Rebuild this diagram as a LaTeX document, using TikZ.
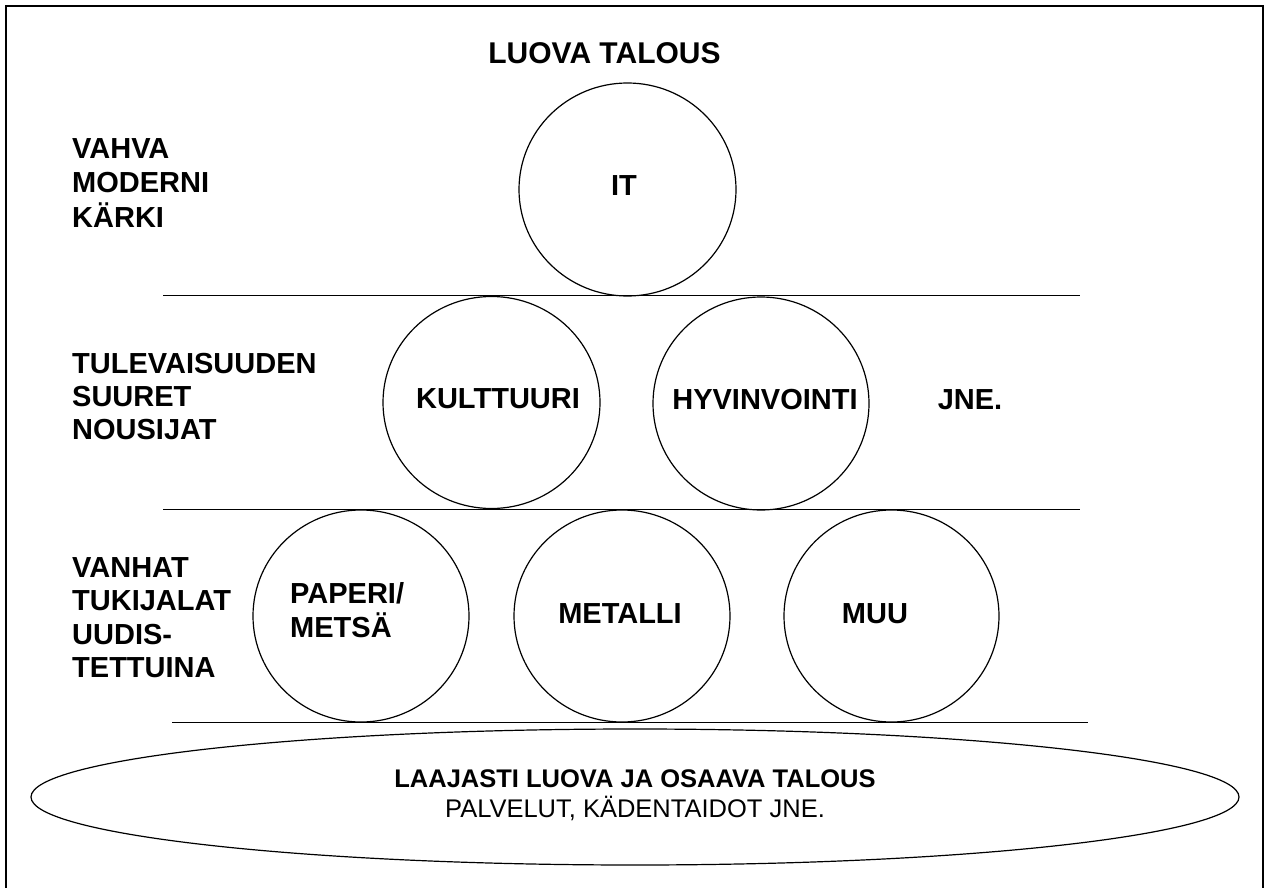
\documentclass[tikz,border=0pt]{standalone}
\usepackage{fontspec}
\setmainfont{Liberation Sans}
\usetikzlibrary{shapes.geometric}
\tikzset{
  ball/.style={draw=black, line width=1.2pt, ellipse, inner sep=0pt, minimum width=216pt, minimum height=212pt},
  lbl/.style={font=\fontsize{29}{34}\selectfont\bfseries, inner sep=0pt},
  ttl/.style={font=\fontsize{30}{34}\selectfont\bfseries, inner sep=0pt},
  bbold/.style={font=\fontsize{25.5}{30}\selectfont\bfseries, inner sep=0pt},
  breg/.style={font=\fontsize{25.5}{30}\selectfont, inner sep=0pt},
  rule/.style={draw=black, line width=1.5pt},
  frame/.style={draw=black, line width=2pt}
}
\begin{document}
\begin{tikzpicture}[x=1pt, y=-1pt]
\useasboundingbox (0,0) rectangle (1264,888);
\fill[white] (0,0) rectangle (1264,888);
\draw[frame] (6,6) rectangle (1263,900);

% layer rules
\coordinate (r1a) at (163,295.5); \coordinate (r1b) at (1080,295.5);
\coordinate (r2a) at (163,509.5); \coordinate (r2b) at (1080,509.5);
\coordinate (r3a) at (172,722.5); \coordinate (r3b) at (1088,722.5);
\draw[rule] (r1a) -- (r1b);
\draw[rule] (r2a) -- (r2b);
\draw[rule] (r3a) -- (r3b);

% title
\node[ttl, anchor=base] (title) at (604.5,64) {LUOVA TALOUS};

% circles
\node[ball, minimum width=217pt, minimum height=213pt] (it) at (627.5,189.5) {};
\node[ball, minimum width=217pt] (kult) at (491.5,402.5) {};
\node[ball, minimum height=213pt] (hyv) at (761,403.5) {};
\node[ball] (pap) at (361,616) {};
\node[ball] (met) at (622,616) {};
\node[ball, minimum width=215pt] (muu) at (891.5,616) {};

% circle texts
\node[lbl, anchor=base] (itt) at (624,196) {IT};
\node[lbl, anchor=base] (kultt) at (498,408) {KULTTUURI};
\node[lbl, anchor=base] (hyvt) at (765,409) {HYVINVOINTI};
\node[lbl, anchor=base] (jne) at (970,409) {JNE.};
\node[lbl, anchor=base west] (papt1) at (290,603) {PAPERI/};
\node[lbl, anchor=base west] (papt2) at (290,637) {METSÄ};
\node[lbl, anchor=base] (mett) at (620,623) {METALLI};
\node[lbl, anchor=base] (muut) at (875,623) {MUU};

% left labels
\node[lbl, anchor=base west] (a1) at (72,159) {VAHVA};
\node[lbl, anchor=base west] (a2) at (72,193) {MODERNI};
\node[lbl, anchor=base west] (a3) at (72,227) {KÄRKI};
\node[lbl, anchor=base west] (b1) at (72,373) {TULEVAISUUDEN};
\node[lbl, anchor=base west] (b2) at (72,406) {SUURET};
\node[lbl, anchor=base west] (b3) at (72,439) {NOUSIJAT};
\node[lbl, anchor=base west] (c1) at (72,577) {VANHAT};
\node[lbl, anchor=base west] (c2) at (72,610.5) {TUKIJALAT};
\node[lbl, anchor=base west] (c3) at (72,644) {UUDIS-};
\node[lbl, anchor=base west] (c4) at (72,677.5) {TETTUINA};

% base ellipse
\node[draw=black, line width=1.2pt, ellipse, inner sep=0pt, minimum width=1208pt, minimum height=136pt] (base) at (635,797) {};
\node[bbold, anchor=base] (bt1) at (635,787) {LAAJASTI LUOVA JA OSAAVA TALOUS};
\node[breg, anchor=base] (bt2) at (635,817) {PALVELUT, KÄDENTAIDOT JNE.};
\end{tikzpicture}
\end{document}
